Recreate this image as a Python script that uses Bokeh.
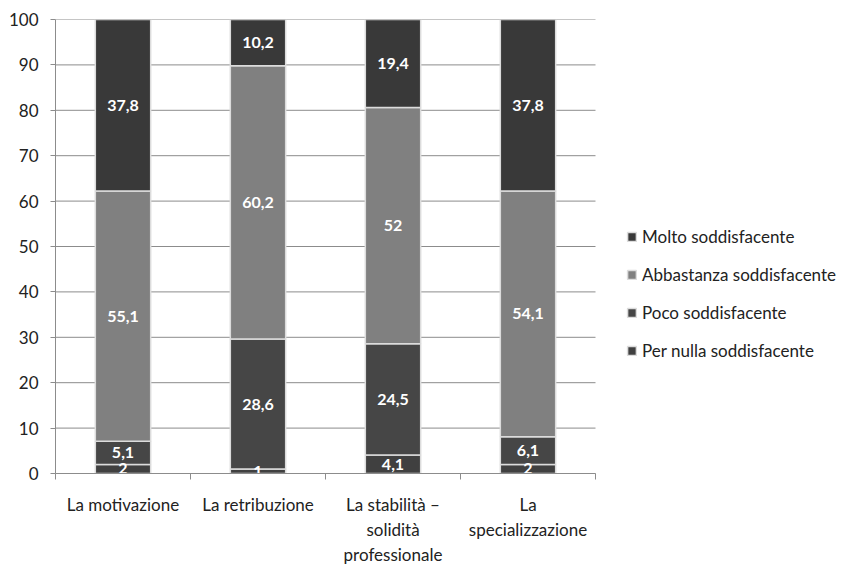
from bokeh.plotting import figure
from bokeh.models import ColumnDataSource, FixedTicker, Legend, LegendItem
from bokeh.embed import file_html
from bokeh.resources import INLINE
from bokeh.core.properties import value

categories = ["La motivazione", "La retribuzione", "La stabilità –\nsolidità\nprofessionale", "La\nspecializzazione"]
series_names = ["Per nulla soddisfacente", "Poco soddisfacente", "Abbastanza soddisfacente", "Molto soddisfacente"]
per_nulla = [2, 1, 4.1, 2]
poco = [5.1, 28.6, 24.5, 6.1]
abbastanza = [55.1, 60.2, 52, 54.1]
molto = [37.8, 10.2, 19.4, 37.8]
y_ticks = [0, 10, 20, 30, 40, 50, 60, 70, 80, 90, 100]

colors = ["#404040", "#464646", "#808080", "#393939"]
FONT = "Lato"

W, H = 846, 567
LEFT, RIGHT_BORDER, TOP, BOTTOM = 55, 6, 19, 88
frame_w = W - LEFT - RIGHT_BORDER
cat_px = 540  # pixel width of the category area
n = len(categories)
x_end = n * frame_w / cat_px

xs = [i + 0.5 for i in range(n)]
keys = ["s0", "s1", "s2", "s3"]
data = {"x": xs}
for k, arr in zip(keys, [per_nulla, poco, abbastanza, molto]):
    data[k] = arr
src = ColumnDataSource(data)

p = figure(width=W, height=H, x_range=(0, x_end), y_range=(0, 100),
           output_backend="svg", toolbar_location=None,
           min_border_left=LEFT, min_border_right=RIGHT_BORDER, min_border_top=TOP, min_border_bottom=BOTTOM)
p.outline_line_color = None
p.xgrid.grid_line_color = None
p.ygrid.grid_line_color = None

# horizontal gridlines limited to the category area
p.segment(x0=[0] * len(y_ticks), x1=[n] * len(y_ticks), y0=y_ticks, y1=y_ticks,
          line_color="#8c8c8c", line_width=1)

renderers = p.vbar_stack(keys, x="x", width=0.41, source=src, fill_color=colors,
                         line_color="#dcdcdc", line_width=1.5)

# segment labels
lx, ly, lt = [], [], []
for i in range(n):
    base = 0
    for arr in [per_nulla, poco, abbastanza, molto]:
        v = arr[i]
        lx.append(xs[i])
        ly.append(base + v / 2)
        lt.append(f"{v:g}".replace(".", ","))
        base += v
lsrc = ColumnDataSource(dict(x=lx, y=ly, t=lt))
p.text(x="x", y="y", text="t", source=lsrc, text_color="white", text_font=value(FONT),
       text_font_style="bold", text_font_size="16px", text_align="center", text_baseline="middle")

# y axis
ya = p.yaxis[0]
ya.ticker = FixedTicker(ticks=y_ticks)
ya.axis_line_color = "#8c8c8c"
ya.major_tick_line_color = "#8c8c8c"
ya.major_tick_in = 0
ya.major_tick_out = 5
ya.minor_tick_line_color = None
ya.major_label_text_font = FONT
ya.major_label_text_font_size = "17px"
ya.major_label_text_color = "#222222"
ya.major_label_standoff = 12

# x axis
xa = p.xaxis[0]
xa.bounds = (0, n)
xa.ticker = FixedTicker(ticks=xs, minor_ticks=list(range(n + 1)))
xa.major_label_overrides = {x: c for x, c in zip(xs, categories)}
xa.axis_line_color = "#8c8c8c"
xa.major_tick_line_color = None
xa.minor_tick_line_color = "#8c8c8c"
xa.minor_tick_in = 0
xa.minor_tick_out = 6
xa.major_label_text_font = FONT
xa.major_label_text_font_size = "17px"
xa.major_label_text_color = "#222222"
xa.major_label_standoff = 14

items = [LegendItem(label=series_names[i], renderers=[renderers[i]]) for i in [3, 2, 1, 0]]
legend = Legend(items=items, location=(571, 112), orientation="vertical",
                label_text_font=FONT, label_text_font_size="17px", label_text_color="#222222",
                glyph_width=11, glyph_height=11, label_height=20, spacing=17,
                border_line_color=None, background_fill_alpha=0, padding=0, margin=0,
                label_standoff=5)
p.add_layout(legend, "center")

open("out.html", "w").write(file_html(p, INLINE))
